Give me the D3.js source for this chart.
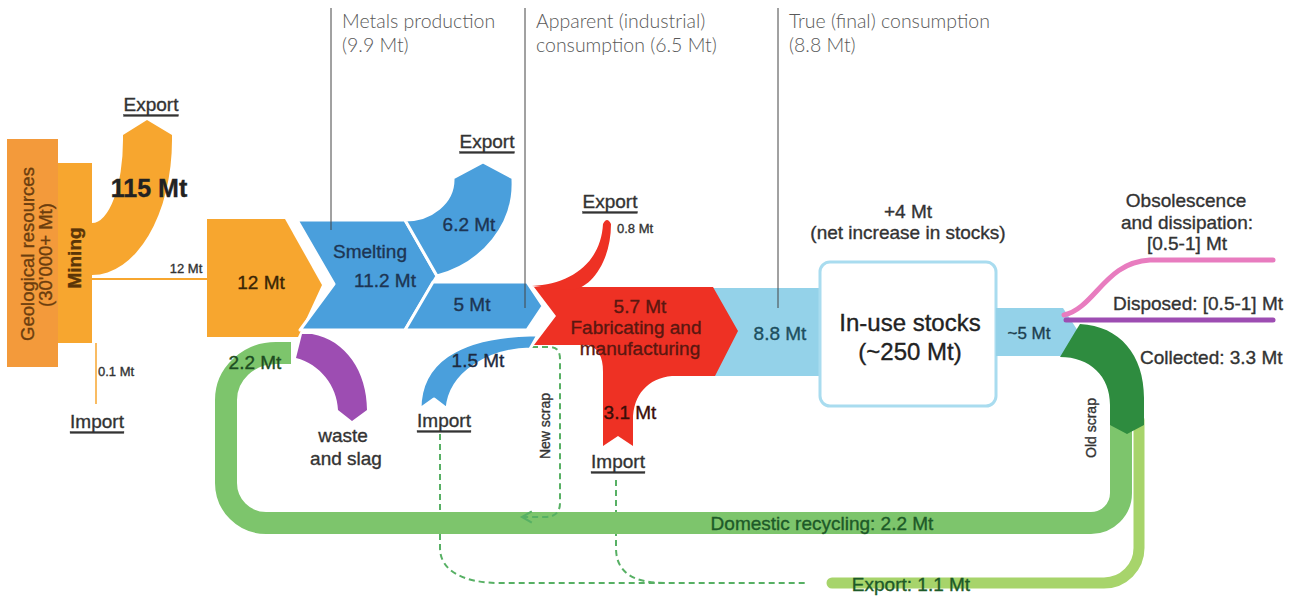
<!DOCTYPE html>
<html>
<head>
<meta charset="utf-8">
<script src="https://cdn.jsdelivr.net/npm/d3@7"></script>
<style>
    html, body { margin: 0; padding: 0; background: #fff; }
    svg { display: block; }
    text { font-family: "Liberation Sans", Arial, sans-serif; }
</style>
</head>
<body>
<div id="chart"></div>
<script>
// Stage markers shown along the top
const stageTitles = ['Metals production', 'Apparent (industrial)', 'True (final) consumption'];
const stagePrefix = ['', 'consumption ', ''];
const stageValues = [9.9, 6.5, 8.8];

// Flow quantities in Mt
const flowKeys = ['oreExport', 'mined', 'oreImport', 'concentrate', 'smelted', 'metalExport', 'metalDomestic',
    'metalImport', 'semiExport', 'fabricated', 'semiImport', 'finalUse', 'outflow', 'collected',
    'domestic', 'scrapExport', 'scrapReturn'];
const flowValues = [115, 12, 0.1, 12, 11.2, 6.2, 5, 1.5, 0.8, 5.7, 3.1, 8.8, 5, 3.3, 2.2, 1.1, 2.2];

// Stocks and losses
const stockValues = [250, 4];
const lossNames = ['Obsolescence and dissipation', 'Disposed'];
const lossRanges = [[0.5, 1], [0.5, 1]];

const v = Object.fromEntries(flowKeys.map((k, i) => [k, flowValues[i]]));
const mt = (x) => `${x} Mt`;

const svg = d3.select('#chart')
    .append('svg')
    .attr('width', 1298)
    .attr('height', 596);

const defs = svg.append('defs');
defs.append('marker')
    .attr('id', 'arrow')
    .attr('viewBox', '0 0 10 10')
    .attr('refX', 8)
    .attr('refY', 5)
    .attr('markerWidth', 7)
    .attr('markerHeight', 7)
    .attr('orient', 'auto')
    .append('path')
    .attr('d', 'M1,1 L8,5 L1,9')
    .attr('fill', 'none')
    .attr('stroke', '#57b064')
    .attr('stroke-width', 1.5);

function shape(d, fill, stroke) {
    return svg.append('path')
        .attr('d', d)
        .attr('fill', fill)
        .attr('stroke', stroke || 'none')
        .attr('stroke-width', stroke ? 3 : 0)
        .attr('stroke-linejoin', 'round');
}

function band(d, color, width, cap) {
    return svg.append('path')
        .attr('d', d)
        .attr('fill', 'none')
        .attr('stroke', color)
        .attr('stroke-width', width)
        .attr('stroke-linecap', cap || 'butt');
}

function label(x, y, text, opts = {}) {
    const color = opts.color || '#333';
    const t = svg.append('text')
        .attr('x', x)
        .attr('y', y)
        .attr('text-anchor', opts.anchor || 'middle')
        .attr('dominant-baseline', 'central')
        .style('font-size', (opts.size || 19) + 'px')
        .style('font-weight', opts.weight || 'normal')
        .style('fill', color)
        .style('stroke', opts.thin ? 'none' : color)
        .style('stroke-width', 0.35)
        .text(text);
    if (opts.underline) t.style('text-decoration', 'underline');
    if (opts.rotate) t.attr('transform', `rotate(${opts.rotate},${x},${y})`);
    if (opts.family) t.style('font-family', opts.family);
    return t;
}

// Colours
const orange = '#f7a62f';
const blue = '#4a9fdc';
const lightBlue = '#94d2e9';
const red = '#ee3124';
const purple = '#9d4db2';
const pink = '#e87cbf';
const darkGreen = '#2e8c3f';
const green = '#7dc56c';
const paleGreen = '#a7d46b';
const dash = '#57b064';

// Dashed import paths (behind the recycling loop)
band('M440,434 L440,548 C440,570 462,583 500,583 L808,583', dash, 2).attr('stroke-dasharray', '6,4');
band('M616,480 L616,548 C616,570 630,583 665,583', dash, 2).attr('stroke-dasharray', '6,4');

// Recycling loop and scrap export
band('M1121,420 L1121,493 A30,30 0 0 1 1091,523 L266,523 A40,40 0 0 1 226,483 L226,400 A50,47 0 0 1 276,353 L291,353', green, 22);
band('M1139,420 L1139,548 A35,35 0 0 1 1104,583 L832,583', paleGreen, 11, 'round');

// New scrap returning to the loop
band('M532,347 L550,347 Q560,347 560,359 L560,503 Q560,517 545,517 L522,517', dash, 2)
    .attr('stroke-dasharray', '6,4')
    .attr('marker-end', 'url(#arrow)');

// Waste and slag
shape('M302,334 L312,334 C346,340 367,372 367,410 L352,421 L338,410 C337,386 320,364 296,358 Z', purple);

// Mining stage
svg.append('rect').attr('x', 7).attr('y', 139).attr('width', 51).attr('height', 228).attr('fill', '#f39a3b');
svg.append('rect').attr('x', 58).attr('y', 163).attr('width', 34).attr('height', 180).attr('fill', orange);
shape('M92,275 A80,135 0 0 0 172,140 L172,135 L147,120 L123,135 L123,140 A31,83 0 0 1 92,223 Z', orange);
band('M92,279 L207,279', orange, 2);
band('M96,343 L96,404', orange, 1.5);
shape('M207,219 L285,219 L322,285 L298,337 L207,337 Z', orange);

// Smelting stage
shape('M297,220 L405,220 L437,276 L405,330 L300,330 L334,284 Z', blue, '#fff');
shape('M437,276 A106,96 0 0 0 513,180 L513,178 L483,162 L453,178 L453,180 A48,40 0 0 1 405,220 Z', blue, '#fff');
shape('M433,282 L527,282 L543,306 L527,330 L405,330 Z', blue, '#fff');
shape('M420,409 C420,364 456,337 530,335 L538,335 L530,349 C490,350 450,372 447,409 L434,399 Z', blue, '#fff');

// Fabrication stage
shape('M700,288 L822,288 L822,376 L700,376 Z', lightBlue);
shape('M534,287 L713,287 L738,331 L715,376 L700,376 L700,345 L534,345 L556,316 Z', red);
shape('M532,286 C572,284 601,262 603,224 Q607,216 611,224 C611,262 590,290 570,290 Z', red);
shape('M603,446 L603,372 C603,356 598,348 588,345 L715,345 L715,376 L672,376 C648,378 633,395 633,420 L633,446 L618,436 Z', red);

// In-use stocks and outflows
svg.append('rect')
    .attr('x', 820).attr('y', 262).attr('width', 176).attr('height', 144)
    .attr('rx', 10)
    .attr('fill', '#fff')
    .attr('stroke', '#a9dcef')
    .attr('stroke-width', 3);
shape('M996,308 L1063,308 L1078,331 L1063,356 L996,356 Z', lightBlue);
shape('M1060,357 L1075,332 L1080,324 C1120,326 1144,355 1144,398 L1144,425 L1127,434 L1110,425 L1110,405 C1110,376 1090,357 1060,357 Z', darkGreen);
band('M1064,315 C1095,308 1105,262 1150,260 L1273,260', pink, 5, 'round');
band('M1066,320 L1273,320', purple, 5, 'round');

// Stage marker lines and captions
const stageX = [331, 525, 778];
const stageEnd = [230, 308, 308];
stageX.forEach((x, i) => {
    band(`M${x},8 L${x},${stageEnd[i]}`, '#444', 1);
    const cap = { anchor: 'start', size: 19.5, color: '#595959', family: 'Lato', weight: 300, thin: true };
    label(x + 11, 20, stageTitles[i], cap);
    label(x + 11, 44, `${stagePrefix[i]}(${stageValues[i]} Mt)`, cap);
});

// Mining labels
label(27, 254, 'Geological resources', { rotate: -90, color: '#6b3d0e', size: 18.5 });
label(45, 255, "(30'000+ Mt)", { rotate: -90, color: '#6b3d0e', size: 18.5 });
label(74, 258, 'Mining', { rotate: -90, color: '#5a3508', weight: 'bold' });
label(151, 104, 'Export', { underline: true });
label(149, 188, mt(v.oreExport), { size: 25, weight: 'bold', color: '#222' });
label(186, 268, mt(v.mined), { size: 13 });
label(98, 371, mt(v.oreImport), { size: 13, anchor: 'start' });
label(97, 421, 'Import', { underline: true });
label(261, 282, mt(v.concentrate), { color: '#3a2505' });

// Smelting labels
label(370, 251, 'Smelting', { color: '#1d3553' });
label(385, 280, mt(v.smelted), { color: '#1d3553' });
label(469, 224, mt(v.metalExport), { color: '#1d3553' });
label(487, 141, 'Export', { underline: true });
label(472, 304, mt(v.metalDomestic), { color: '#1d3553' });
label(478, 360, mt(v.metalImport), { color: '#1d2a40' });
label(444, 420, 'Import', { underline: true });
label(255, 362, mt(v.scrapReturn), { color: '#1d4d22' });
label(343, 435, 'waste');
label(346, 458, 'and slag');

// Fabrication labels
label(610, 201, 'Export', { underline: true });
label(617, 228, mt(v.semiExport), { size: 13, anchor: 'start' });
label(640, 306, mt(v.fabricated), { color: '#5a1710' });
label(636, 327, 'Fabricating and', { color: '#5a1710' });
label(640, 348, 'manufacturing', { color: '#5a1710' });
label(630, 412, mt(v.semiImport), { color: '#3a0d08' });
label(618, 461, 'Import', { underline: true });
label(545, 426, 'New scrap', { rotate: -90, size: 14 });
label(780, 333, mt(v.finalUse), { color: '#1d4f5f' });

// Stocks labels
label(908, 211, `+${stockValues[1]} Mt`);
label(908, 232, '(net increase in stocks)');
label(910, 322, 'In-use stocks', { size: 24, color: '#222' });
label(910, 351, `(~${stockValues[0]} Mt)`, { size: 24, color: '#222' });
label(1029, 333, `~${v.outflow} Mt`, { size: 17, color: '#1d3f4f' });

// End-of-life labels
const rangeText = (r) => `[${r[0]}-${r[1]}] Mt`;
label(1186, 200, 'Obsolescence');
label(1187, 222, 'and dissipation:');
label(1187, 243, rangeText(lossRanges[0]));
label(1113, 303, `${lossNames[1]}: ${rangeText(lossRanges[1])}`, { anchor: 'start' });
label(1140, 357, `Collected: ${mt(v.collected)}`, { anchor: 'start' });
label(1091, 428, 'Old scrap', { rotate: -90, size: 14 });
label(822, 523, `Domestic recycling: ${mt(v.domestic)}`, { color: '#1d5a28' });
label(911, 584, `Export: ${mt(v.scrapExport)}`, { color: '#1d5a28' });
</script>
</body>
</html>
